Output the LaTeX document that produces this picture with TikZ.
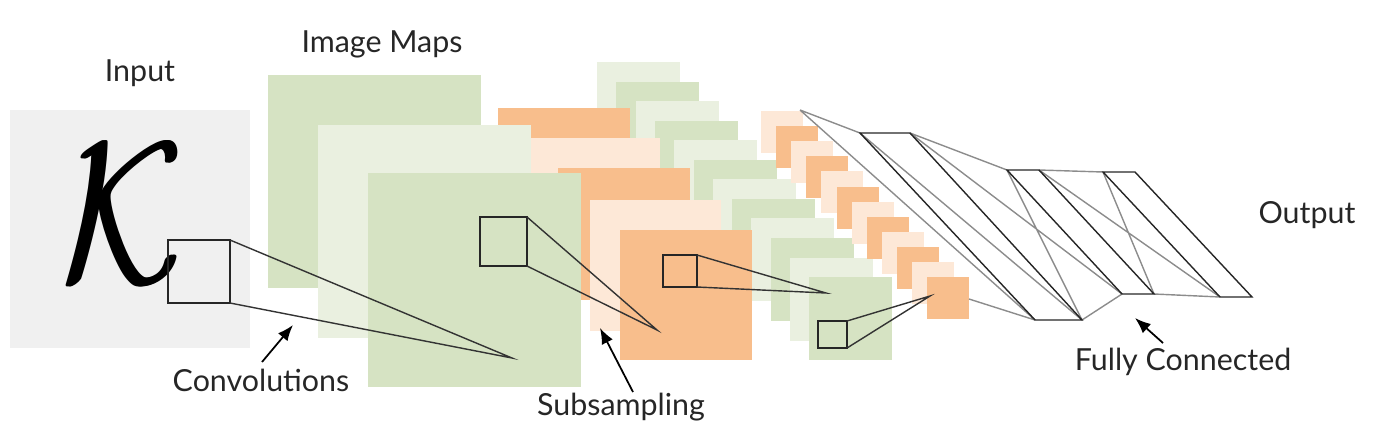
\documentclass[tikz,border=0pt]{standalone}
\usepackage{fontspec}
\setmainfont{Lato}
\usetikzlibrary{arrows.meta}
\begin{document}
\begin{tikzpicture}[x=0.02cm,y=-0.02cm,
  lab/.style={font=\fontsize{17.3}{20}\selectfont,text=black!85,inner sep=0},
  kk/.style={inner sep=0},
  win/.style={draw=black!85,line width=0.9pt},
  cl/.style={draw=black!80,line width=0.8pt},
  fc/.style={draw=black!85,line width=0.8pt},
  fg/.style={draw=black!45,line width=0.8pt},
  arr/.style={draw=black,line width=1pt,-{Latex[length=9pt,width=7pt]}}]
\definecolor{gm}{RGB}{214,227,195}
\definecolor{gl}{RGB}{234,240,224}
\definecolor{om}{RGB}{248,190,140}
\definecolor{ol}{RGB}{253,232,215}
\definecolor{inbg}{RGB}{240,240,240}
\useasboundingbox (0,0) rectangle (1388,444);
% input
\fill[inbg] (10,110) rectangle (250,348);
\node[kk] (K) at (122,214) {\resizebox{2.4cm}{2.75cm}{$\mathcal{K}$}};
\node[kk] (K2) at (123.5,214) {\resizebox{2.4cm}{2.75cm}{$\mathcal{K}$}};
\node[kk] (K3) at (125,214) {\resizebox{2.4cm}{2.75cm}{$\mathcal{K}$}};
% second green stack (back)
\foreach \i in {0,...,11}{
  \pgfmathsetmacro\xx{597+19.3*\i}\pgfmathsetmacro\yy{62+19.55*\i}
  \pgfmathtruncatemacro\m{mod(\i,2)}
  \ifnum\m=0 \def\cc{gl}\else\def\cc{gm}\fi
  \fill[\cc] (\xx,\yy) rectangle ++(83,83);}
% second orange stack
\foreach \i in {0,...,11}{
  \pgfmathsetmacro\xx{761+15.1*\i}\pgfmathsetmacro\yy{111+15.1*\i}
  \pgfmathtruncatemacro\m{mod(\i,2)}
  \ifnum\m=0 \def\cc{ol}\else\def\cc{om}\fi
  \fill[\cc] (\xx,\yy) rectangle ++(42,42);}
% first orange stack
\fill[om] (498,108) rectangle ++(132,132);
\fill[ol] (528,138) rectangle ++(132,132);
\fill[om] (558,168) rectangle ++(132,132);
\fill[ol] (590,200) rectangle ++(131,131);
\fill[om] (620,230) rectangle ++(132,130);
% first green stack
\fill[gm] (268,75) rectangle (481,288);
\fill[gl] (318,125) rectangle (531,338);
\fill[gm] (368,173) rectangle (581,387);
% windows
\draw[win] (168,240) rectangle (230,303);
\draw[win] (480,217) rectangle (527,266);
\draw[win] (663,255) rectangle (697,287);
\draw[win] (818,321) rectangle (847,348);
\coordinate (c1) at (512,358);
\coordinate (c2) at (657,330);
\coordinate (c3) at (826,293);
\coordinate (c4) at (930,296);
\draw[cl] (230,240) -- (c1) -- (230,303);
\draw[cl] (527,217) -- (c2) -- (527,266);
\draw[cl] (697,255) -- (c3) -- (697,287);
\draw[cl] (847,321) -- (c4) -- (847,348);
% fully connected
\coordinate (a1) at (860,133); \coordinate (a2) at (910,133);
\coordinate (a3) at (1082,320); \coordinate (a4) at (1035,320);
\coordinate (b1) at (1007,170); \coordinate (b2) at (1039,170);
\coordinate (b3) at (1154,294); \coordinate (b4) at (1122,294);
\coordinate (d1) at (1103,172); \coordinate (d2) at (1135,172);
\coordinate (d3) at (1252,297); \coordinate (d4) at (1220,297);
\coordinate (s1) at (800,110); \coordinate (s2) at (969,299);
\draw[fg] (s1) -- (a1) (s1) -- (a4) (s2) -- (a4) (a1) -- (a3);
\draw[fg] (a2) -- (b1) (a2) -- (b4) (a3) -- (b1) (a3) -- (b4);
\draw[fg] (b2) -- (d1) (b2) -- (d4) (b3) -- (d1) (b3) -- (d4);
\draw[fc] (a1) -- (a2) -- (a3) -- (a4) -- cycle;
\draw[fc] (b1) -- (b2) -- (b3) -- (b4) -- cycle;
\draw[fc] (d1) -- (d2) -- (d3) -- (d4) -- cycle;
% labels
\node[lab] (tin) at (140,73) {Input};
\node[lab] (tim) at (382,44) {Image Maps};
\node[lab] (tout) at (1307,215) {Output};
\node[lab] (tconv) at (261,380) {Convolutions};
\node[lab] (tsub) at (621,407) {Subsampling};
\node[lab] (tfc) at (1183,362) {Fully Connected};
\coordinate (e1) at (293,325);
\coordinate (e2) at (600,328);
\coordinate (e3) at (1135,318);
\draw[arr] (262,362) -- (e1);
\draw[arr] (633,392) -- (e2);
\draw[arr] (1163,343) -- (e3);
\end{tikzpicture}
\end{document}
